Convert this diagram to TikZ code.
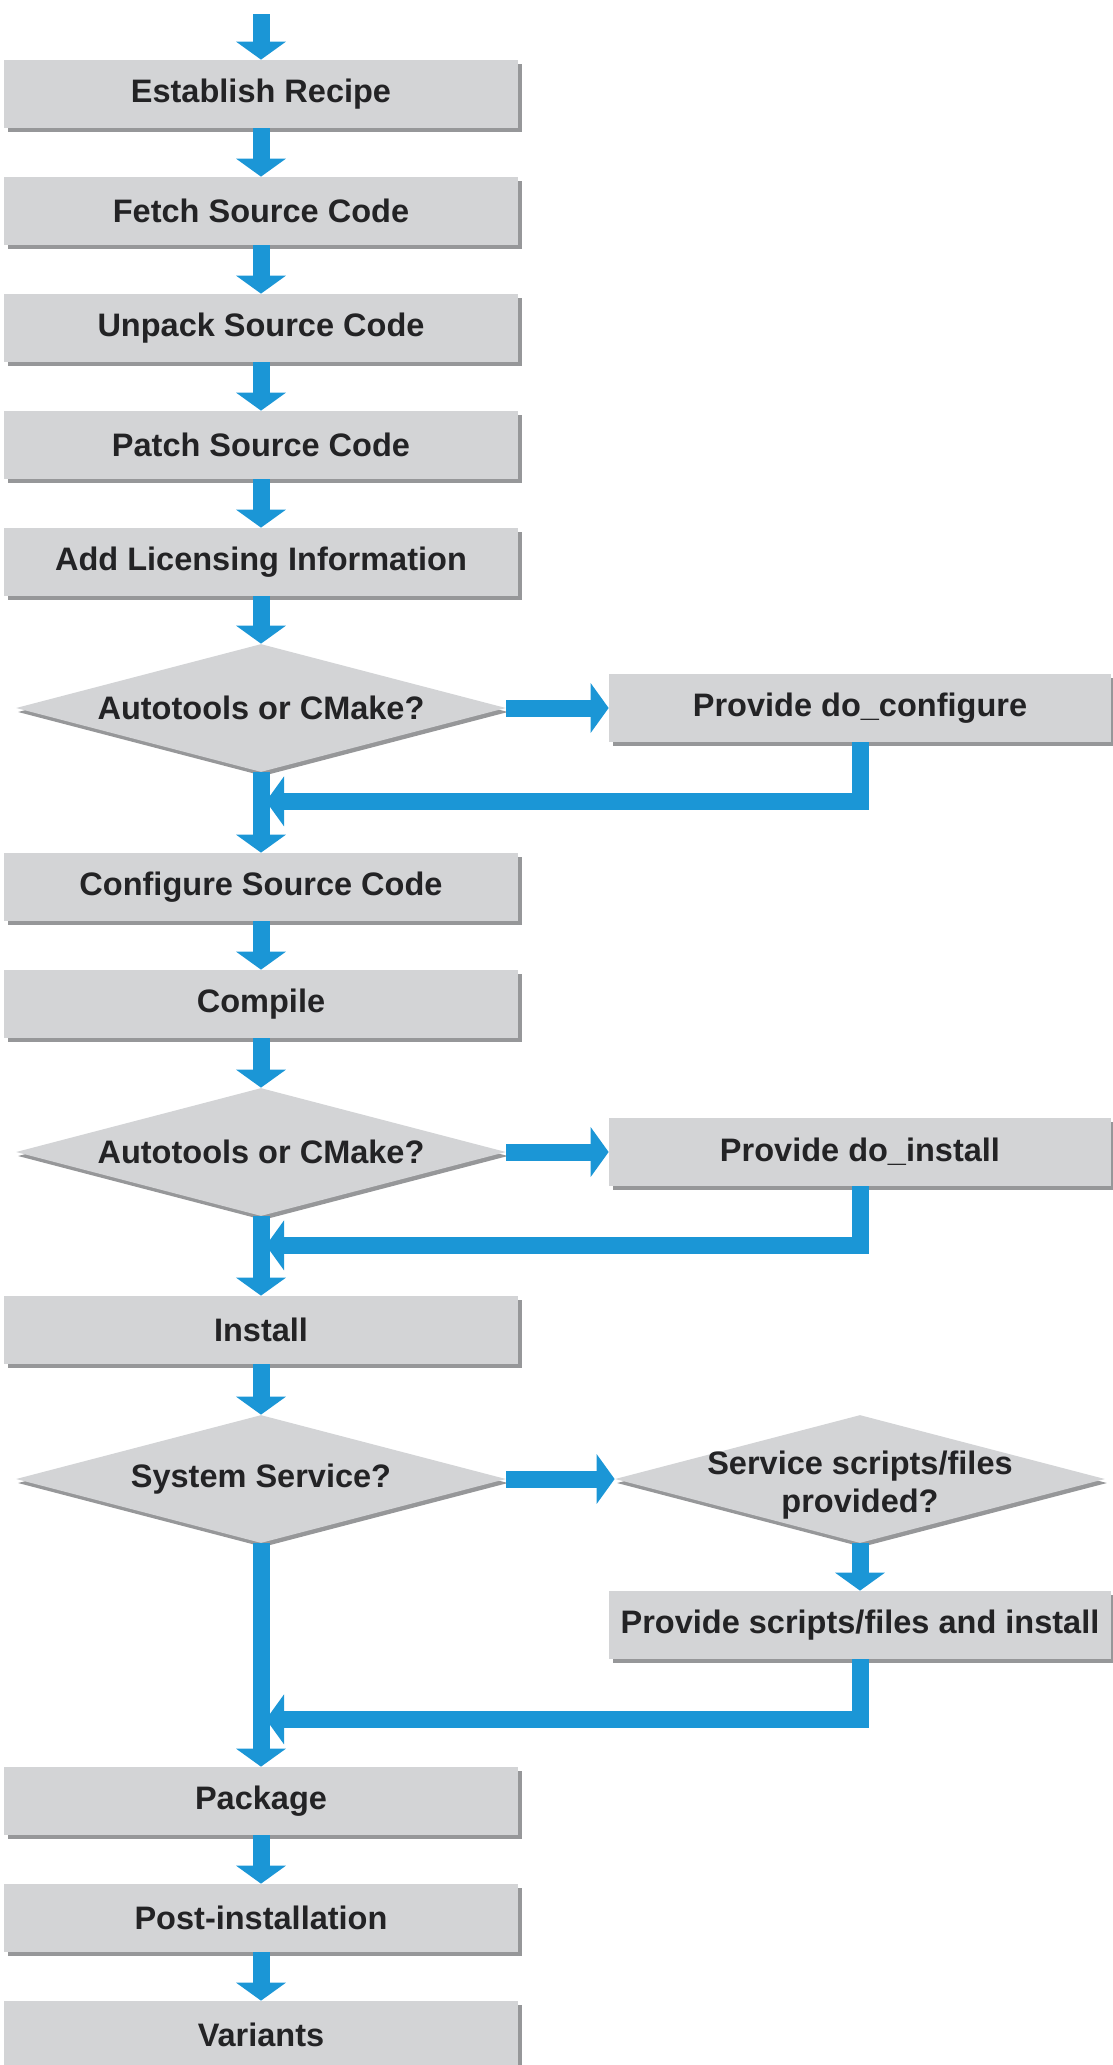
\documentclass[tikz,border=0pt]{standalone}
\usepackage{fontspec}
\setmainfont{Liberation Sans}
\usetikzlibrary{arrows.meta}
\usetikzlibrary{positioning}
\usetikzlibrary{shapes.geometric}
\usetikzlibrary{shadows}
\definecolor{flowblue}{RGB}{27,150,214}
\definecolor{boxgray}{RGB}{211,212,214}
\definecolor{shadegray}{RGB}{150,151,153}
\definecolor{inkgray}{RGB}{35,35,37}

\begin{document}
\begin{tikzpicture}[node distance=2.34cm,
  every node/.style={font=\fontsize{18.5}{22}\selectfont\bfseries,text=inkgray},
  stepbox/.style={rectangle,fill=boxgray,minimum width=10.28cm,minimum height=1.36cm,inner sep=0pt,
    drop shadow={shadow xshift=0.07cm,shadow yshift=-0.08cm,fill=shadegray,opacity=1}},
  sidebox/.style={stepbox,minimum width=10.04cm},
  decision/.style={diamond,fill=boxgray,minimum width=9.8cm,minimum height=2.56cm,inner sep=0pt,
    drop shadow={shadow xshift=0.04cm,shadow yshift=-0.08cm,fill=shadegray,opacity=1}},
  flow/.style={draw=flowblue,line width=0.34cm,-{Triangle[width=0.98cm,length=0.36cm]}}]
  \useasboundingbox (0,0) rectangle (22.24,-41.3);

  \coordinate (0) at (5.22,-0.28);
  \node[stepbox] (1) at (5.22,-1.88) {Establish Recipe};
  \node[stepbox,below of=1] (2) {Fetch Source Code};
  \node[stepbox,below of=2] (3) {Unpack Source Code};
  \node[stepbox,below of=3] (4) {Patch Source Code};
  \node[stepbox,below of=4] (5) {Add Licensing Information};
  \node[decision,node distance=2.92cm,below of=5,label=center:{Autotools or CMake?}] (6) {};
  \node[stepbox,node distance=3.58cm,below of=6] (7) {Configure Source Code};
  \node[stepbox,below of=7] (8) {Compile};
  \node[decision,node distance=2.96cm,below of=8,label=center:{Autotools or CMake?}] (9) {};
  \node[stepbox,node distance=3.56cm,below of=9] (10) {Install};
  \node[decision,node distance=2.98cm,below of=10,label=center:{System Service?}] (11) {};
  \node[stepbox,node distance=6.44cm,below of=11] (12) {Package};
  \node[stepbox,below of=12] (13) {Post-installation};
  \node[stepbox,below of=13] (14) {Variants};

  \node[sidebox,node distance=11.98cm,right of=6] (21) {Provide do\_configure};
  \node[sidebox,node distance=11.98cm,right of=9] (22) {Provide do\_install};
  \node[decision,node distance=11.98cm,right of=11,
    label={[align=center,yshift=-0.12cm]center:Service scripts/files\\provided?}] (23) {};
  \node[sidebox,node distance=2.92cm,below of=23] (24) {Provide scripts/files and install};

  \coordinate (j1) at ([xshift=0.1cm,yshift=-1.18cm]21.south -| 6.south);
  \coordinate (j2) at ([xshift=0.1cm,yshift=-1.18cm]22.south -| 9.south);
  \coordinate (j3) at ([xshift=0.1cm,yshift=-1.2cm]24.south -| 11.south);

  \foreach \a/\b in {0/1,1/2,2/3,3/4,4/5,5/6,6/7,7/8,8/9,9/10,10/11,11/12,12/13,13/14}
    \draw[flow] (\a) -- (\b);
  \draw[flow] (6) -- (21);
  \draw[flow] (9) -- (22);
  \draw[flow] (11) -- (23);
  \draw[flow] (23) -- (24);
  \draw[flow] (21.south) |- (j1);
  \draw[flow] (22.south) |- (j2);
  \draw[flow] (24.south) |- (j3);
\end{tikzpicture}
\end{document}
